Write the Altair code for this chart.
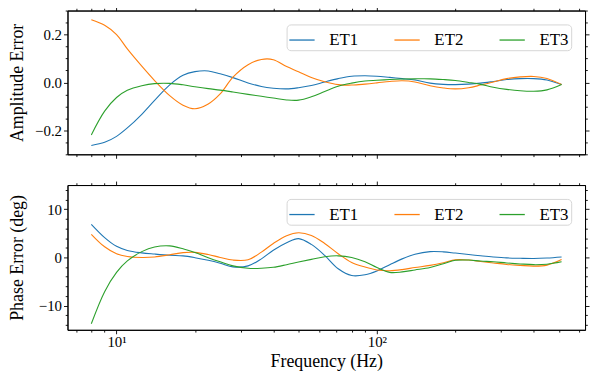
import altair as alt
import pandas as pd

# ---- data ----
freq = [8, 9, 10, 11, 12.5, 14, 16, 18, 20, 22.5, 25, 28, 32, 36, 40, 45, 50, 56, 63, 71,
        80, 90, 100, 112, 125, 140, 160, 180, 200, 225, 250, 280, 315, 355, 400, 450, 512]

amp_et1 = [-0.263, -0.250, -0.225, -0.190, -0.133, -0.075, -0.010, 0.030, 0.045, 0.048, 0.036,
           0.020, -0.002, -0.017, -0.024, -0.027, -0.022, -0.013, 0.002, 0.016, 0.026, 0.028,
           0.026, 0.021, 0.016, 0.010, -0.003, -0.008, -0.009, -0.007, -0.003, 0.004, 0.012,
           0.016, 0.016, 0.010, -0.009]
amp_et2 = [0.262, 0.239, 0.200, 0.140, 0.068, 0.008, -0.055, -0.095, -0.110, -0.090, -0.048,
           0.022, 0.074, 0.096, 0.095, 0.066, 0.045, 0.021, 0.003, -0.009, -0.011, -0.007,
           -0.002, 0.004, 0.007, 0.002, -0.014, -0.023, -0.027, -0.022, -0.011, 0.002, 0.016,
           0.023, 0.025, 0.016, -0.009]
amp_et3 = [-0.219, -0.120, -0.063, -0.033, -0.014, -0.005, -0.004, -0.010, -0.018, -0.026,
           -0.032, -0.040, -0.050, -0.058, -0.065, -0.073, -0.074, -0.060, -0.038, -0.016,
           -0.003, 0.006, 0.009, 0.012, 0.014, 0.015, 0.015, 0.012, 0.008, 0.000, -0.008,
           -0.020, -0.029, -0.035, -0.037, -0.031, -0.009]

ph_et1 = [6.87, 4.12, 2.3, 1.45, 0.95, 0.7, 0.45, 0.32, -0.05, -0.6, -1.2, -1.95, -1.75, -0.3,
          1.5, 3.05, 3.9, 2.7, 0.43, -2.34, -3.75, -3.6, -2.8, -1.5, -0.3, 0.65, 1.2, 1.15, 0.9,
          0.6, 0.35, 0.1, -0.1, -0.18, -0.22, -0.12, 0.1]
ph_et2 = [4.8, 2.2, 0.75, 0.2, 0.0, 0.1, 0.55, 1.0, 1.05, 0.6, 0.0, -0.55, -0.48, 1.1, 2.9,
          4.5, 5.1, 4.56, 2.9, 0.77, -1.05, -2.0, -2.6, -2.75, -2.52, -2.1, -1.65, -1.1, -0.5,
          -0.55, -0.85, -1.15, -1.45, -1.65, -1.8, -1.6, -0.45]
ph_et3 = [-13.75, -7.1, -3.1, -0.73, 1.2, 2.17, 2.4, 1.8, 1.0, -0.05, -0.9, -1.75, -2.25,
          -2.25, -2.05, -1.5, -0.95, -0.4, 0.15, 0.33, 0.0, -0.9, -2.1, -3.1, -3.0, -2.6, -2.1,
          -1.3, -0.6, -0.55, -0.75, -0.9, -1.15, -1.35, -1.5, -1.4, -0.9]

series = ["ET1", "ET2", "ET3"]
colors = ["#1f77b4", "#ff7f0e", "#2ca02c"]

x_ticks = [7, 8, 9, 10, 20, 30, 40, 50, 60, 70, 80, 90, 100, 200, 300, 400, 500, 600]
amp_ticks = [-0.3, -0.25, -0.2, -0.15, -0.1, -0.05, 0, 0.05, 0.1, 0.15, 0.2, 0.25, 0.3]
ph_ticks = [-14, -12, -10, -8, -6, -4, -2, 0, 2, 4, 6, 8, 10, 12, 14]

rows = []
for name, a, p in zip(series, [amp_et1, amp_et2, amp_et3], [ph_et1, ph_et2, ph_et3]):
    for f, av, pv in zip(freq, a, p):
        rows.append({"freq": f, "series": name, "amp": av, "phase": pv})
df = pd.DataFrame(rows)

FONT = "'Liberation Serif', 'DejaVu Serif', serif"
W, H = 522, 145
xscale = alt.Scale(type="log", domain=[6.48, 630], nice=False)
x_major = "datum.value == 10 || datum.value == 100"
x_label = "datum.value == 10 ? '10¹' : datum.value == 100 ? '10²' : ''"


def tsize(test):
    return {"condition": {"test": test, "value": 4}, "value": 2.3}


def panel(field, ydomain, yticks, ymaj, yfmt, ytitle, show_x):
    yscale = alt.Scale(domain=ydomain, nice=False, zero=False)
    base = alt.Chart(df)
    if show_x:
        xaxis = alt.Axis(title="Frequency (Hz)", orient="bottom", values=x_ticks,
                         tickSize=tsize(x_major), labelExpr=x_label, labelFont=FONT,
                         labelFontSize=15, labelPadding=1, titleFont=FONT,
                         titleFontSize=18, titlePadding=3, labelFlush=False)
    else:
        xaxis = alt.Axis(title="", labels=False, orient="bottom", values=x_ticks,
                         tickSize=tsize(x_major))
    lines = base.mark_line(strokeWidth=1.1, interpolate="catmull-rom").encode(
        x=alt.X("freq:Q", scale=xscale, axis=xaxis),
        y=alt.Y(f"{field}:Q", scale=yscale,
                axis=alt.Axis(orient="left", title=ytitle, values=yticks, format=yfmt,
                              tickSize=tsize(ymaj),
                              labelExpr=f"{ymaj} ? datum.label : ''",
                              labelFont=FONT, labelFontSize=15, labelPadding=2,
                              titleFont=FONT, titleFontSize=18,
                              titleX=-50, titleBaseline="middle")),
        color=alt.Color("series:N", scale=alt.Scale(domain=series, range=colors),
                        legend=alt.Legend(title=None, orient="top-right", offset=14,
                                          direction="horizontal", columns=3,
                                          symbolType="stroke", symbolSize=650,
                                          symbolStrokeWidth=1.3, labelOffset=14,
                                          columnPadding=33, labelFontSize=17,
                                          labelFont=FONT, labelColor="black", padding=2,
                                          fillColor="rgba(255,255,255,0.8)",
                                          strokeColor="#d6d6d6", cornerRadius=4)),
    )
    mirror = base.mark_line(strokeOpacity=0).encode(
        x=alt.X("freq:Q", scale=xscale,
                axis=alt.Axis(orient="top", title="", labels=False, values=x_ticks,
                              tickSize=tsize(x_major))),
        y=alt.Y(f"{field}:Q", scale=yscale,
                axis=alt.Axis(orient="right", title="", labels=False, values=yticks,
                              tickSize=tsize(ymaj))),
        detail="series:N",
    )
    return alt.layer(lines, mirror).resolve_axis(x="independent", y="independent").properties(
        width=W, height=H)


top = panel("amp", [-0.3, 0.3], amp_ticks,
            "(datum.value == 0.2 || datum.value == 0 || datum.value == -0.2)",
            ".1f", "Amplitude Error", False)
bottom = panel("phase", [-15, 15], ph_ticks,
               "(datum.value == 10 || datum.value == 0 || datum.value == -10)",
               "d", "Phase Error (deg)", True).properties(height=146)

chart = alt.vconcat(top, bottom, spacing=21).resolve_scale(color="independent").properties(
    padding={"left": 0, "top": -4, "right": 0, "bottom": 0}
).configure(font=FONT).configure_axis(
    grid=False, domainColor="black", tickColor="black", domainWidth=1, tickWidth=0.9,
    labelFont=FONT, titleFont=FONT, labelColor="black", titleColor="black",
    titleFontWeight="normal",
).configure_legend(labelFont=FONT).configure_view(stroke="black", strokeWidth=1)

chart.save("out.html", embed_options={"renderer": "svg", "actions": False})
